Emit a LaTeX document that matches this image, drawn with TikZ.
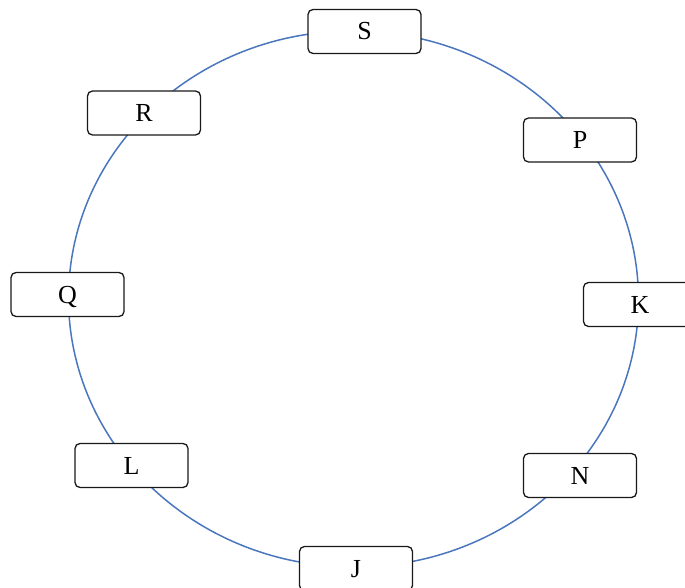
\documentclass[tikz,border=0pt]{standalone}
\usepackage{fontspec}
\setmainfont{Liberation Serif}
\definecolor{ringblue}{RGB}{74,118,190}

\begin{document}
\begin{tikzpicture}[
        x=1pt, y=-1pt,
        member/.style={draw=black!90, rounded corners=5pt, fill=white, align=center, line width=1.3pt,
            minimum width=113pt, minimum height=44pt, inner sep=0pt,
            font=\fontsize{26}{30}\selectfont, text height=17pt, text depth=0pt},
        ring/.style={draw=ringblue, line width=1.5pt}
    ]
    \useasboundingbox (0,0) rectangle (685,588);
    \clip (0,0) rectangle (685,588);

    % Ring
    \draw[ring] (353.5,299) ellipse [x radius=285, y radius=268, rotate=-1.6];

    % Nodes
    \node[member] (S) at (364.5,31.5) {S};
    \node[member] (P) at (580,140) {P};
    \node[member] (K) at (640,304.5) {K};
    \node[member] (N) at (580,475.5) {N};
    \node[member] (J) at (356,568.5) {J};
    \node[member] (L) at (131.5,465.5) {L};
    \node[member] (Q) at (67.5,294.5) {Q};
    \node[member] (R) at (144,113) {R};

\end{tikzpicture}
\end{document}
